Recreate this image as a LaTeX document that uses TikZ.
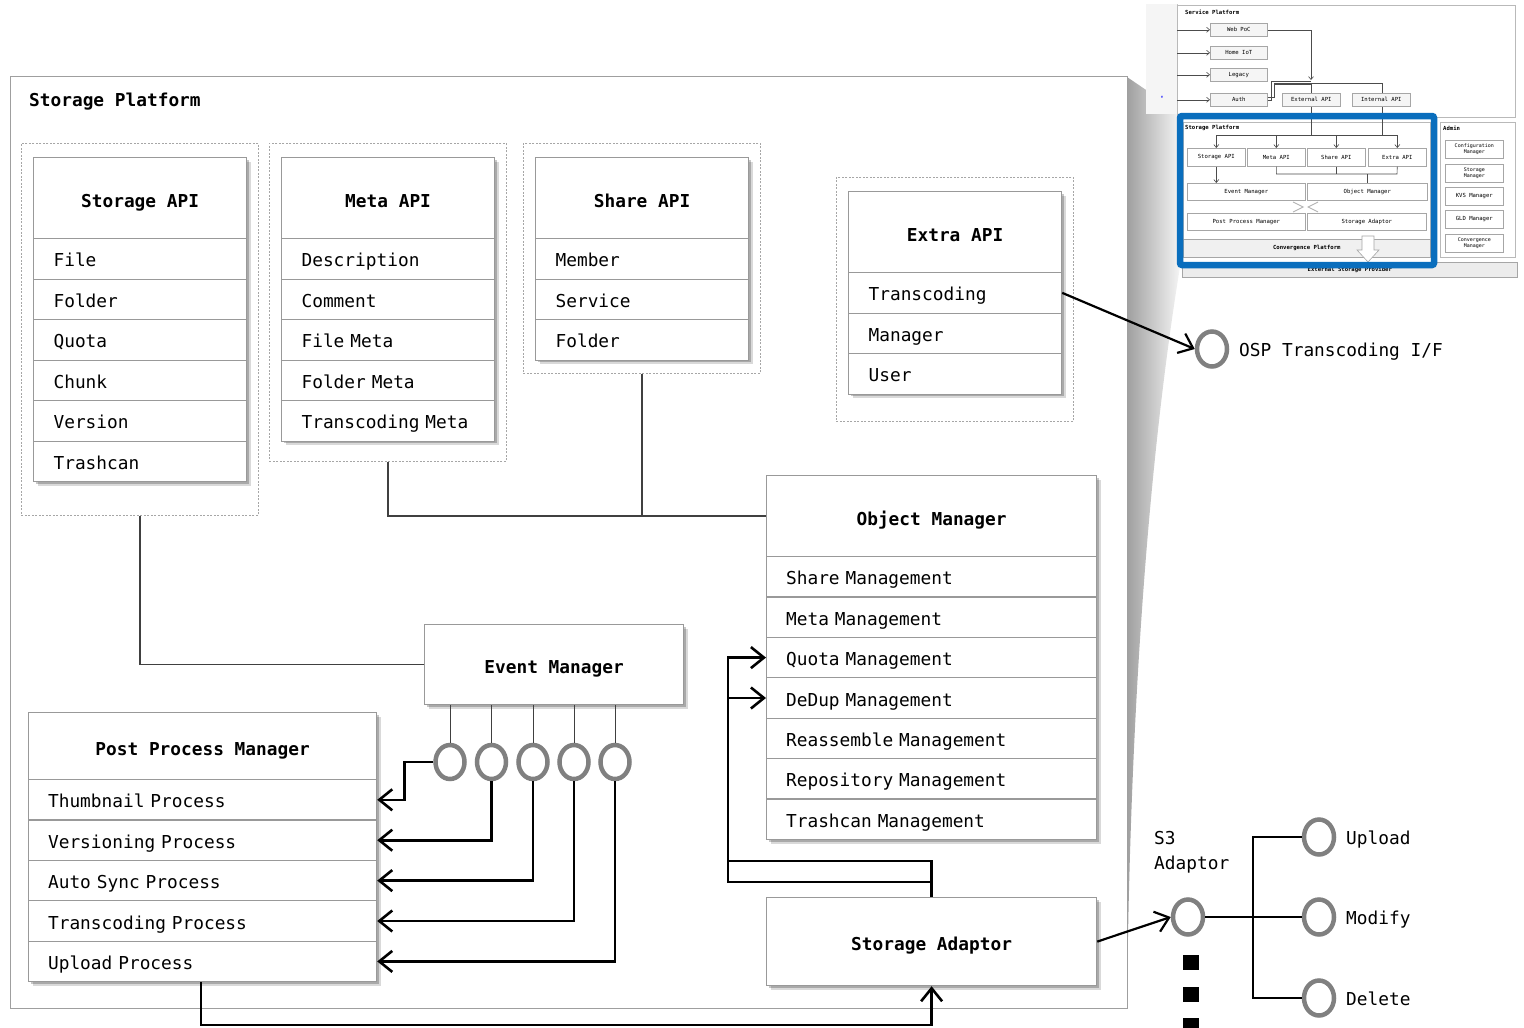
\documentclass[tikz,border=0pt]{standalone}
\usepackage{fontspec}
\setmonofont{DejaVu Sans Mono}
\usetikzlibrary{arrows.meta,shadows,shapes.geometric,calc}
\definecolor{bord}{HTML}{999999}
\definecolor{blueT}{HTML}{0A6EBD}
\definecolor{ringc}{HTML}{808080}
\tikzset{
 shad/.style={drop shadow={shadow xshift=4.5pt,shadow yshift=-4.5pt,opacity=0.15,fill=black},
              drop shadow={shadow xshift=2.5pt,shadow yshift=-2.5pt,opacity=0.22,fill=black}},
 hdr/.style={draw=bord, line width=1.2pt, fill=white, anchor=north west, inner sep=0pt,
             text height=18pt, text depth=0pt,
             font=\ttfamily\bfseries\fontsize{17.8}{21}\selectfont},
 cell/.style={draw=bord, line width=1.2pt, fill=white, anchor=north west, inner xsep=20pt,
              inner ysep=0pt, align=left, minimum height=40.5pt, text height=16pt, text depth=0pt},
 wA/.style={minimum width=213pt, text width=173pt},
 wO/.style={minimum width=330pt, text width=291pt, inner xsep=19.5pt, minimum height=40.4pt},
 wP/.style={minimum width=348pt, text width=309pt, inner xsep=19.5pt, minimum height=40.4pt},
 grp/.style={draw=gray!70, dash pattern=on 2pt off 1.5pt, line width=0.8pt, anchor=north west, inner sep=0pt},
 ringn/.style={ellipse, draw=ringc, line width=4.5pt, minimum width=29pt, minimum height=34pt, inner sep=0pt, fill=white},
 conn/.style={draw=black!75, line width=1.3pt},
 arr/.style={draw=black, line width=2.6pt, -{Straight Barb[length=13pt,width=21pt]}},
 lbl/.style={anchor=base west, inner sep=0pt},
 tf/.style={font=\ttfamily\fontsize{5.6}{6}\selectfont},
 tfb/.style={font=\ttfamily\bfseries\fontsize{5.6}{6}\selectfont},
 tb/.style={draw=gray!70, line width=0.6pt, fill=white, anchor=north west, inner sep=0pt, tf, align=center},
 ta/.style={draw=black!70, line width=0.6pt, -{Straight Barb[length=3pt,width=5pt]}},
 tl/.style={draw=black!70, line width=0.6pt},
}
\begin{document}
\begin{tikzpicture}[x=1pt,y=-1pt,font=\ttfamily\fontsize{17.8}{21}\selectfont]
\useasboundingbox (0,0) rectangle (1524,1028);

% ---------- perspective gradient ----------
\shade[left color=gray!75, right color=gray!8]
  (1127,77) -- (1180,113) -- (1180,267) .. controls (1150,450) and (1130,700) .. (1127,1006) -- cycle;

% ---------- outer frame ----------
\draw[gray!75, line width=1pt] (10,76) rectangle (1127,1008);
\node[lbl, font=\ttfamily\bfseries\fontsize{17.8}{21}\selectfont] (title) at (29,106) {Storage Platform};

% ---------- group boxes ----------
\node[grp, minimum width=237pt, minimum height=372pt] (sag) at (21,143) {};
\node[grp, minimum width=237pt, minimum height=318pt] (mag) at (269,143) {};
\node[grp, minimum width=237pt, minimum height=230pt] (shg) at (523,143) {};
\node[grp, minimum width=237pt, minimum height=244pt] (exg) at (836,177) {};

% ---------- Storage API ----------
\path[fill=white, shad] (33,157) rectangle (246,481);
\node[hdr, minimum width=213pt, minimum height=81pt] (sah) at (33,157) {Storage API};
\foreach \t [count=\i] in {File,Folder,Quota,Chunk,Version,Trashcan}
  \node[cell,wA] (sa\i) at (33,{238+40.5*(\i-1)}) {\t};

% ---------- Meta API ----------
\path[fill=white, shad] (281,157) rectangle (494,440.5);
\node[hdr, minimum width=213pt, minimum height=81pt] (mah) at (281,157) {Meta API};
\foreach \t [count=\i] in {Description,Comment,File Meta,Folder Meta,Transcoding Meta}
  \node[cell,wA] (ma\i) at (281,{238+40.5*(\i-1)}) {\t};

% ---------- Share API ----------
\path[fill=white, shad] (535,157) rectangle (748,359.5);
\node[hdr, minimum width=213pt, minimum height=81pt] (shh) at (535,157) {Share API};
\foreach \t [count=\i] in {Member,Service,Folder}
  \node[cell,wA] (sh\i) at (535,{238+40.5*(\i-1)}) {\t};

% ---------- Extra API ----------
\path[fill=white, shad] (848,191) rectangle (1061,393.5);
\node[hdr, minimum width=213pt, minimum height=81pt] (exh) at (848,191) {Extra API};
\foreach \t [count=\i] in {Transcoding,Manager,User}
  \node[cell,wA] (ex\i) at (848,{272+40.5*(\i-1)}) {\t};

% ---------- Object Manager ----------
\path[fill=white, shad] (766,475) rectangle (1096,839);
\node[hdr, minimum width=330pt, minimum height=81pt] (omh) at (766,475) {Object Manager};
\foreach \t [count=\i] in {Share Management,Meta Management,Quota Management,DeDup Management,Reassemble Management,Repository Management,Trashcan Management}
  \node[cell,wO] (om\i) at (766,{556+40.4*(\i-1)}) {\t};

% ---------- Event Manager ----------
\node[hdr, shad, minimum width=259pt, minimum height=80pt] (em) at (424,624) {Event Manager};

% ---------- Post Process Manager ----------
\path[fill=white, shad] (28,712) rectangle (376,981);
\node[hdr, minimum width=348pt, minimum height=67pt] (pph) at (28,712) {Post Process Manager};
\foreach \t [count=\i] in {Thumbnail Process,Versioning Process,Auto Sync Process,Transcoding Process,Upload Process}
  \node[cell,wP] (pp\i) at (28,{779+40.4*(\i-1)}) {\t};

% ---------- Storage Adaptor ----------
\node[hdr, shad, minimum width=330pt, minimum height=88pt] (sad) at (766,897) {Storage Adaptor};

% ---------- thin connectors ----------
\draw[conn] (sag.south) |- (em.west);
\draw[conn] (mag.south) |- (omh.west);
\draw[conn] (shg.south) -- (shg.south |- omh.west);

% ---------- event rings ----------
\foreach \x [count=\i] in {450,491.5,533,574,615}{
  \node[ringn] (c\i) at (\x,762) {};
  \draw[conn, line width=1pt] (c\i.north |- em.south) -- (c\i.north);
}
\draw[arr] (c1.west) -- ++(-29,0) |- (pp1.east);
\draw[arr] (c2.south) |- (pp2.east);
\draw[arr] (c3.south) |- (pp3.east);
\draw[arr] (c4.south) |- (pp4.east);
\draw[arr] (c5.south) |- (pp5.east);

% ---------- post process -> storage adaptor ----------
\coordinate (pb) at (201,1025);
\draw[arr] (pp5.south -| pb) -- (pb) -| (sad.south);

% ---------- storage adaptor -> object manager ----------
\coordinate (lp1) at (728,861);
\coordinate (lp2) at (728,882);
\draw[line width=2.6pt] (sad.north) -- (sad.north |- lp1) -- (lp1) -- (lp2) -- (sad.north |- lp2);
\draw[arr] (lp2) |- (om3.west);
\draw[arr] (lp2 |- om4.west) -- (om4.west);

% ---------- OSP ----------
\node[ringn, minimum width=30pt, minimum height=35pt] (osp) at (1212,349) {};
\node[lbl] (ospt) at (1239,356) {OSP Transcoding I/F};
\draw[arr, line width=2.2pt] (ex1.east) -- (osp.west);

% ---------- S3 ----------
\node[ringn, minimum width=30pt, minimum height=35pt] (s3) at (1188,917) {};
\node[anchor=base west, inner sep=0pt, align=left, font=\ttfamily\fontsize{17.8}{25}\selectfont] (s3t) at (1154,869) {S3\\Adaptor};
\draw[arr, line width=2.2pt] (sad.east) -- (s3.west);
\node[ringn, minimum width=30pt, minimum height=35pt] (up) at (1319,837) {};
\node[ringn, minimum width=30pt, minimum height=35pt] (md) at (1319,917) {};
\node[ringn, minimum width=30pt, minimum height=35pt] (dl) at (1319,998) {};
\node[lbl] (upt) at (1346,844) {Upload};
\node[lbl] (mdt) at (1346,924) {Modify};
\node[lbl] (dlt) at (1346,1005) {Delete};
\coordinate (br) at (1253,917);
\draw[black, line width=1.1pt] (s3.east) -- (md.west);
\draw[black, line width=1.1pt] (up.west) -| (br);
\draw[black, line width=1.1pt] (dl.west) -| (br);
\fill[black] (1183,955) rectangle (1199,970);
\fill[black] (1183,987) rectangle (1199,1002);
\fill[black] (1183,1018) rectangle (1199,1030);

% ================= thumbnail =================
\fill[gray!8] (1146,4) rectangle (1177,114);
\draw[gray!45, line width=0.6pt] (1177,4) -- (1177,114);
\node[font=\sffamily\fontsize{5}{5}\selectfont, text=blue, inner sep=0pt] (tb0) at (1162,97) {e};
\draw[gray!55, line width=0.6pt, fill=white] (1177,5) rectangle (1515,117);
\node[tfb, anchor=west, inner sep=0pt] (tsp) at (1185,12) {Service Platform};

\draw[tl] (1311,83) -- (1311,135);
\draw[tl] (1382,83) -- (1382,135);
\draw[tl] (1274,83) -- (1382,83);

\begin{scope}[every node/.append style={drop shadow={shadow xshift=1pt,shadow yshift=-1pt,opacity=0.3}}]
\node[tb, fill=gray!8, minimum width=57pt, minimum height=13pt] (twp) at (1210,23) {Web PoC};
\node[tb, fill=gray!8, minimum width=57pt, minimum height=13pt] (thi) at (1210,46) {Home IoT};
\node[tb, fill=gray!8, minimum width=57pt, minimum height=13pt] (tlg) at (1210,68) {Legacy};
\node[tb, fill=gray!8, minimum width=57pt, minimum height=13pt] (tau) at (1210,93) {Auth};
\node[tb, fill=gray!8, minimum width=58pt, minimum height=13pt] (tea) at (1282,93) {External API};
\node[tb, fill=gray!8, minimum width=58pt, minimum height=13pt] (tia) at (1352,93) {Internal API};
\end{scope}
\coordinate (tL) at (1177,0);
\foreach \n in {twp,thi,tlg,tau} \draw[ta] (tL |- \n.west) -- (\n.west);
\draw[ta] (twp.east) -| (1311,80);
\draw[tl] (tau.east) -- ++(4,0) |- (1311,81);
\draw[tl] ($(tau.east)+(0,-3)$) -- ++(7,0) |- (1311,84);

% external storage provider bar
\node[tb, tfb, fill=gray!15, minimum width=335pt, minimum height=15pt] (tes) at (1182,262) {External Storage Provider};

% storage platform inner
\draw[gray!55, line width=0.6pt, fill=white] (1183,122) rectangle (1430,257);
\node[tfb, anchor=west, inner sep=0pt] (tstp) at (1185,128) {Storage Platform};
\draw[tl] (1311,117) -- (1311,135);
\draw[tl] (1382,117) -- (1382,135);
\draw[tl] (1216,135) -- (1396.5,135);
\node[tb, minimum width=58pt, minimum height=18pt] (tsa) at (1187,148) {Storage API};
\node[tb, minimum width=58pt, minimum height=18pt] (tma) at (1247,148) {Meta API};
\node[tb, minimum width=58pt, minimum height=18pt] (tsh) at (1307,148) {Share API};
\node[tb, minimum width=58pt, minimum height=18pt] (tex) at (1368,148) {Extra API};
\foreach \n in {tsa,tma,tsh,tex} \draw[ta] (\n.north |- 0,135) -- (\n.north);
\node[tb, minimum width=118pt, minimum height=17pt] (tem) at (1187,183) {Event Manager};
\node[tb, minimum width=120pt, minimum height=17pt] (tom) at (1307,183) {Object Manager};
\draw[ta] (tsa.south) -- (tem.north -| tsa.south);
\draw[tl] (tma.south) |- (1397,174) -- (tex.south);
\draw[tl] (tsh.south) -- (tsh.south |- 0,174);
\draw[tl] (1367,174) -- (tom.north -| 1367,0);
\node[tb, minimum width=118pt, minimum height=17pt] (tpp) at (1187,213) {Post Process Manager};
\node[tb, minimum width=119pt, minimum height=17pt] (tst) at (1307,213) {Storage Adaptor};
\draw[gray!60, line width=0.9pt] (1293,202) -- (1303,207) -- (1293,212);
\draw[gray!60, line width=0.9pt] (1318,202) -- (1308,207) -- (1318,212);
\node[tb, tfb, fill=gray!12, minimum width=247pt, minimum height=18pt] (tcp) at (1183,239) {Convergence Platform};
\draw[gray!70, fill=white, line width=0.6pt] (1362,236) -- (1374,236) -- (1374,250) -- (1379,250) -- (1368,262) -- (1357,250) -- (1362,250) -- cycle;

% blue highlight
\draw[blueT, line width=6.5pt, rounded corners=2pt] (1180,116) rectangle (1434,265);

% admin
\draw[gray!55, line width=0.6pt, fill=white] (1440,122) rectangle (1515,257);
\node[tfb, anchor=west, inner sep=0pt] (tad) at (1443,128) {Admin};
\begin{scope}[every node/.append style={drop shadow={shadow xshift=1pt,shadow yshift=-1pt,opacity=0.3}}]
\node[tb, minimum width=58pt, minimum height=18pt, font=\ttfamily\fontsize{5}{5.5}\selectfont] (ta1) at (1445,140) {Configuration\\Manager};
\node[tb, minimum width=58pt, minimum height=18pt, font=\ttfamily\fontsize{5}{5.5}\selectfont] (ta2) at (1445,164) {Storage\\Manager};
\node[tb, minimum width=58pt, minimum height=18pt] (ta3) at (1445,187) {KVS Manager};
\node[tb, minimum width=58pt, minimum height=18pt] (ta4) at (1445,210) {GLD Manager};
\node[tb, minimum width=58pt, minimum height=18pt, font=\ttfamily\fontsize{5}{5.5}\selectfont] (ta5) at (1445,234) {Convergence\\Manager};
\end{scope}
\end{tikzpicture}
\end{document}
